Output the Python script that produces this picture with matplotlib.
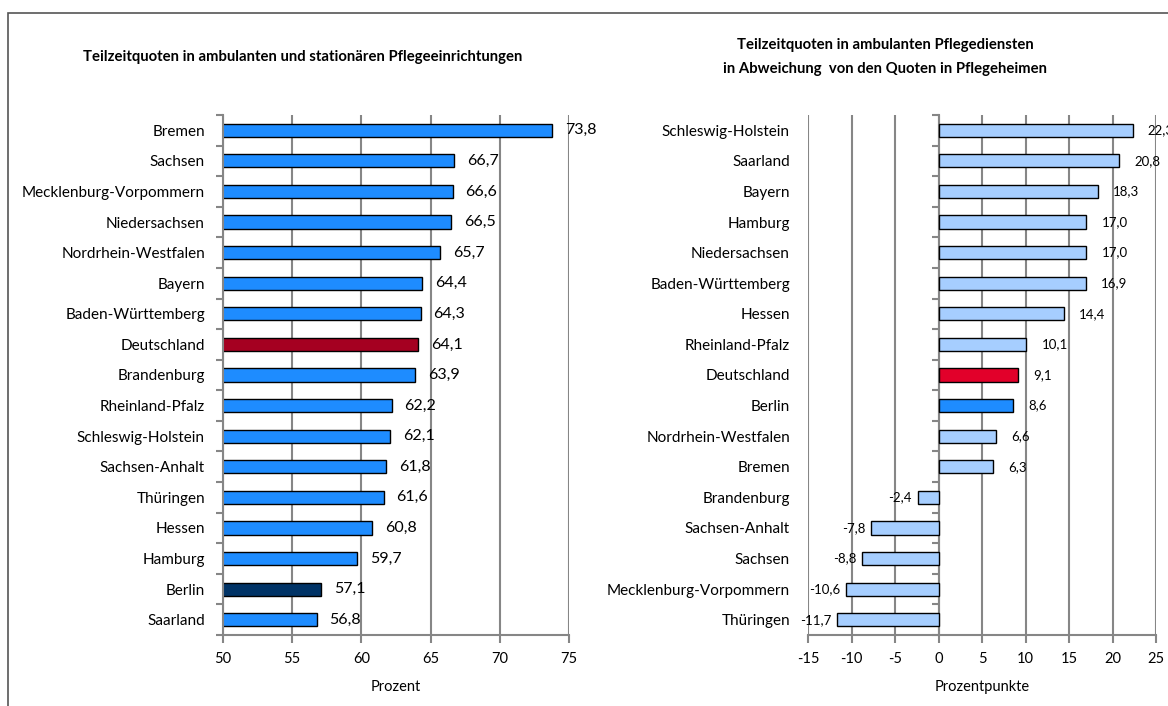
import matplotlib
matplotlib.use("Agg")
import matplotlib.pyplot as plt
import matplotlib.patches as patches
import numpy as np

plt.rcParams['font.family'] = ['Lato', 'DejaVu Sans']

# --- data ---
left_labels = ["Bremen", "Sachsen", "Mecklenburg-Vorpommern", "Niedersachsen",
               "Nordrhein-Westfalen", "Bayern", "Baden-Württemberg", "Deutschland",
               "Brandenburg", "Rheinland-Pfalz", "Schleswig-Holstein", "Sachsen-Anhalt",
               "Thüringen", "Hessen", "Hamburg", "Berlin", "Saarland"]
left_values = [73.8, 66.7, 66.6, 66.5, 65.7, 64.4, 64.3, 64.1, 63.9, 62.2,
               62.1, 61.8, 61.6, 60.8, 59.7, 57.1, 56.8]

right_labels = ["Schleswig-Holstein", "Saarland", "Bayern", "Hamburg", "Niedersachsen",
                "Baden-Württemberg", "Hessen", "Rheinland-Pfalz", "Deutschland", "Berlin",
                "Nordrhein-Westfalen", "Bremen", "Brandenburg", "Sachsen-Anhalt",
                "Sachsen", "Mecklenburg-Vorpommern", "Thüringen"]
right_values = [22.3, 20.8, 18.3, 17.0, 17.0, 16.9, 14.4, 10.1, 9.1, 8.6,
                6.6, 6.3, -2.4, -7.8, -8.8, -10.6, -11.7]

left_colors = {"Deutschland": "#A50021", "Berlin": "#003366"}
right_colors = {"Deutschland": "#E2002A", "Berlin": "#1E8CFF"}
LEFT_BASE = "#1E8CFF"
RIGHT_BASE = "#A6CEFF"
GRID = "#868686"


def de(v):
    return f"{v:.1f}".replace(".", ",")


def style_axis(ax, xmin, xmax, n):
    ax.set_xlim(xmin, xmax)
    ax.set_ylim(n - 0.5, -0.5)
    ax.set_xticks(np.arange(xmin, xmax + 1, 5))
    ax.set_xticklabels([f"{t:g}" for t in np.arange(xmin, xmax + 1, 5)])
    ax.grid(axis='x', color=GRID, linewidth=1.5)
    ax.set_axisbelow(True)
    for s in ("top", "right"):
        ax.spines[s].set_visible(False)
    ax.spines["bottom"].set_color(GRID)
    ax.spines["bottom"].set_linewidth(1.5)
    ax.tick_params(axis='x', length=6, width=1.5, color=GRID, labelsize=10.5, pad=6)
    ax.tick_params(axis='y', which='major', length=0, labelsize=11, pad=13)


fig = plt.figure(figsize=(11.68, 7.06), dpi=100)

# outer frame
fig.add_artist(patches.Rectangle((8 / 1168, -0.05), 1.1, (706 - 13) / 706 + 0.05,
                                 transform=fig.transFigure, fill=False,
                                 edgecolor="#555555", linewidth=1.2))

# ---- left chart ----
axl = fig.add_axes([223 / 1168, 71 / 706, 346 / 1168, 520 / 706])
n = len(left_labels)
y = np.arange(n)
cols = [left_colors.get(c, LEFT_BASE) for c in left_labels]
axl.barh(y, left_values, height=0.43, color=cols, edgecolor="black", linewidth=1)
style_axis(axl, 50, 75, n)
axl.set_yticks(y)
axl.set_yticklabels(left_labels)
axl.set_yticks(np.arange(n + 1) - 0.5, minor=True)
axl.tick_params(axis='y', which='minor', length=5, width=1.5, color=GRID)
axl.spines["left"].set_color(GRID)
axl.spines["left"].set_linewidth(1.5)
for yi, v in zip(y, left_values):
    axl.annotate(de(v), (v, yi), xytext=(9, 0), textcoords="offset points",
                 ha="left", va="center", fontsize=11.5)
axl.set_xlabel("Prozent", fontsize=10.5, labelpad=10)
fig.text(303 / 1168, 1 - 57 / 706,
         "Teilzeitquoten in ambulanten und stationären Pflegeeinrichtungen",
         ha="center", va="center", fontsize=10.7, fontweight="bold")

# ---- right chart ----
axr = fig.add_axes([808 / 1168, 71 / 706, 348 / 1168, 520 / 706])
n = len(right_labels)
y = np.arange(n)
cols = [right_colors.get(c, RIGHT_BASE) for c in right_labels]
axr.barh(y, right_values, height=0.43, color=cols, edgecolor="black", linewidth=1)
style_axis(axr, -15, 25, n)
axr.set_yticks(y)
axr.set_yticklabels(right_labels)
axr.spines["left"].set_visible(False)
# value axis drawn at zero
zero_ax = axr.secondary_yaxis((0 - (-15)) / (25 - (-15)))
zero_ax.set_yticks(np.arange(n + 1) - 0.5)
zero_ax.set_yticklabels([])
zero_ax.tick_params(axis='y', length=5, width=1.5, color=GRID)
zero_ax.spines["left"].set_color(GRID)
zero_ax.spines["left"].set_linewidth(1.5)
for yi, v in zip(y, right_values):
    if v >= 0:
        axr.annotate(de(v), (v, yi), xytext=(11, 0), textcoords="offset points",
                     ha="left", va="center", fontsize=9.5, annotation_clip=False)
    else:
        axr.annotate(de(v), (v, yi), xytext=(-4, 0), textcoords="offset points",
                     ha="right", va="center", fontsize=9.5)
axr.set_xlabel("Prozentpunkte", fontsize=10.5, labelpad=10)
fig.text(885 / 1168, 1 - 57 / 706,
         "Teilzeitquoten in ambulanten Pflegediensten\nin Abweichung  von den Quoten in Pflegeheimen",
         ha="center", va="center", fontsize=10.7, fontweight="bold", linespacing=1.9)

fig.savefig("out.png", dpi=100)
